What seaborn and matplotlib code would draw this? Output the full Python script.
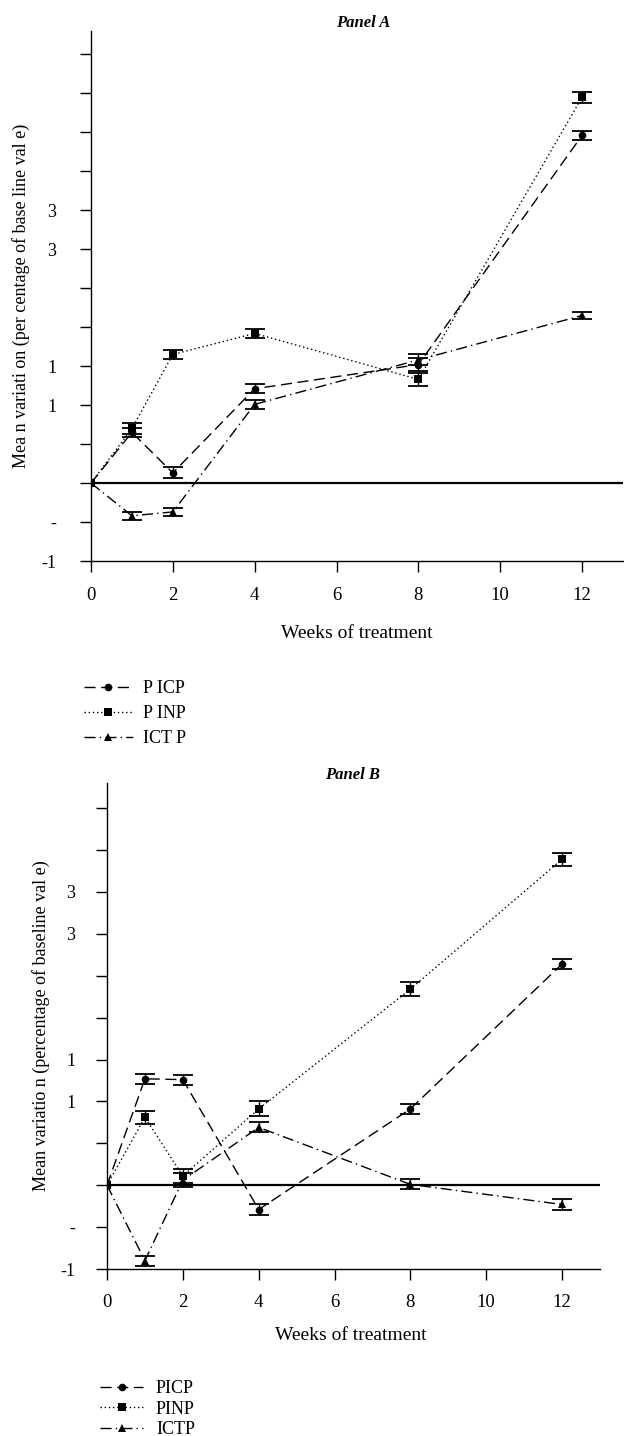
import numpy as np
import pandas as pd
import matplotlib
matplotlib.use("Agg")
import matplotlib.pyplot as plt
import seaborn as sns

# ---------------- data ----------------
weeks = [0, 1, 2, 4, 8, 12]
series = ["PICP", "PINP", "ICTP"]

a_picp = [0, 6.5, 1.3, 12.1, 15.2, 44.6]
a_pinp = [0, 7.0, 16.5, 19.2, 13.3, 49.5]
a_ictp = [0, -4.2, -3.7, 10.1, 15.8, 21.5]
a_picp_err = [0, 0.6, 0.7, 0.6, 0.8, 0.6]
a_pinp_err = [0, 0.7, 0.6, 0.6, 0.8, 0.7]
a_ictp_err = [0, 0.5, 0.5, 0.6, 0.7, 0.5]

b_picp = [0, 12.7, 12.6, -2.9, 9.1, 26.4]
b_pinp = [0, 8.1, 1.1, 9.1, 23.4, 38.9]
b_ictp = [0, -9.0, 0.6, 6.9, 0.1, -2.3]
b_picp_err = [0, 0.6, 0.6, 0.7, 0.6, 0.6]
b_pinp_err = [0, 0.8, 0.8, 0.9, 0.8, 0.8]
b_ictp_err = [0, 0.6, 0.8, 0.6, 0.6, 0.6]

xticks = [0, 2, 4, 6, 8, 10, 12]
a_yticks = [-10, -5, 0, 5, 10, 15, 20, 25, 30, 35, 40, 45, 50, 55]
a_ytick_labels = ["-1", "-", "", "", "1", "1", "", "", "3", "3", "", "", "", ""]
b_yticks = [-10, -5, 0, 5, 10, 15, 20, 25, 30, 35, 40, 45]
b_ytick_labels = ["-1", "-", "", "", "1", "1", "", "", "3", "3", "", ""]

a_legend_labels = ["P ICP", "P INP", "ICT P"]
b_legend_labels = ["PICP", "PINP", "ICTP"]

a_title = "Panel A"
b_title = "Panel B"
a_ylabel = "Mea n variati on (per centage of base line val e)"
b_ylabel = "Mean variatio n (percentage of baseline val e)"
xlabel = "Weeks of treatment"

# ---------------- style ----------------
sns.set_theme(style="ticks", rc={
    "axes.edgecolor": "black", "axes.linewidth": 1.0,
    "xtick.color": "black", "ytick.color": "black",
    "xtick.major.width": 1.0, "ytick.major.width": 1.0,
    "text.color": "black", "axes.labelcolor": "black",
})
plt.rcParams["font.family"] = ["Liberation Serif", "DejaVu Serif"]

W, H = 624, 1436
fig = plt.figure(figsize=(W / 100, H / 100), dpi=100)

def px_axes(left, right, top, bottom):
    return fig.add_axes([left / W, 1 - bottom / H, (right - left) / W, (bottom - top) / H])

dashes = {"PICP": (8, 4), "PINP": (1, 2), "ICTP": (8, 3, 1, 3)}
markers = {"PICP": "o", "PINP": "s", "ICTP": "^"}
palette = {s: "black" for s in series}


def panel(ax, vals, errs, yticks, ylabels, ylim, title, title_x, ylabel,
          ylabel_x, tickpad_y, tickpad_x, xlabel_pos, capsize):
    df = pd.DataFrame({
        "week": weeks * 3,
        "value": vals[0] + vals[1] + vals[2],
        "marker": [series[0]] * 6 + [series[1]] * 6 + [series[2]] * 6,
    })
    ax.axhline(0, color="black", lw=1.6, zorder=1)
    sns.lineplot(data=df, x="week", y="value", hue="marker", style="marker",
                 palette=palette, dashes=dashes, markers=markers,
                 markersize=5.5, markeredgewidth=0, linewidth=1.0,
                 ax=ax, legend=True, zorder=3)
    for v, e in zip(vals, errs):
        idx = [i for i, x in enumerate(e) if x > 0]
        ax.errorbar([weeks[i] for i in idx], [v[i] for i in idx],
                    yerr=[e[i] for i in idx], fmt="none", ecolor="black",
                    elinewidth=1.0, capsize=capsize, capthick=1.3, zorder=4)
    ax.set_xlim(0, 13)
    ax.set_ylim(*ylim)
    ax.set_xticks(xticks)
    ax.set_xticklabels([str(t) for t in xticks], fontsize=13.5)
    ax.set_yticks(yticks)
    ax.set_yticklabels(ylabels, fontsize=13)
    ax.tick_params(axis="y", length=8, pad=tickpad_y)
    ax.tick_params(axis="x", length=8, pad=tickpad_x)
    for s in ["top", "right"]:
        ax.spines[s].set_visible(False)
    ax.set_title(title, fontstyle="italic", fontweight="bold", fontsize=12,
                 x=title_x, pad=3)
    ax.set_ylabel(ylabel, fontsize=13)
    ax.yaxis.set_label_coords(ylabel_x, 0.5)
    ax.set_xlabel(xlabel, fontsize=14)
    ax.xaxis.set_label_coords(*xlabel_pos)
    h, l = ax.get_legend_handles_labels()
    handles = [h[l.index(s)] for s in series]
    ax.get_legend().remove()
    return handles


axA = px_axes(91, 623, 31, 561)
hA = panel(axA, [a_picp, a_pinp, a_ictp], [a_picp_err, a_pinp_err, a_ictp_err],
           a_yticks, a_ytick_labels, (-10, 58), a_title, 0.511, a_ylabel,
           -0.115, 17, 11, (0.5, -0.12), 7)

axB = px_axes(107, 600, 783, 1269)
hB = panel(axB, [b_picp, b_pinp, b_ictp], [b_picp_err, b_pinp_err, b_ictp_err],
           b_yticks, b_ytick_labels, (-10, 48), b_title, 0.499, b_ylabel,
           -0.116, 15, 10, (0.495, -0.12), 7)

fig.legend(hA, a_legend_labels, loc="upper left",
           bbox_to_anchor=(84 / W, 1 - 680 / H), frameon=False, fontsize=13,
           handlelength=2.7, handletextpad=0.55, labelspacing=0.45,
           borderpad=0, borderaxespad=0)
fig.legend(hB, b_legend_labels, loc="upper left",
           bbox_to_anchor=(100 / W, 1 - 1380 / H), frameon=False, fontsize=13,
           handlelength=2.4, handletextpad=0.7, labelspacing=0.2,
           borderpad=0, borderaxespad=0)

fig.savefig("out.png", dpi=100)
